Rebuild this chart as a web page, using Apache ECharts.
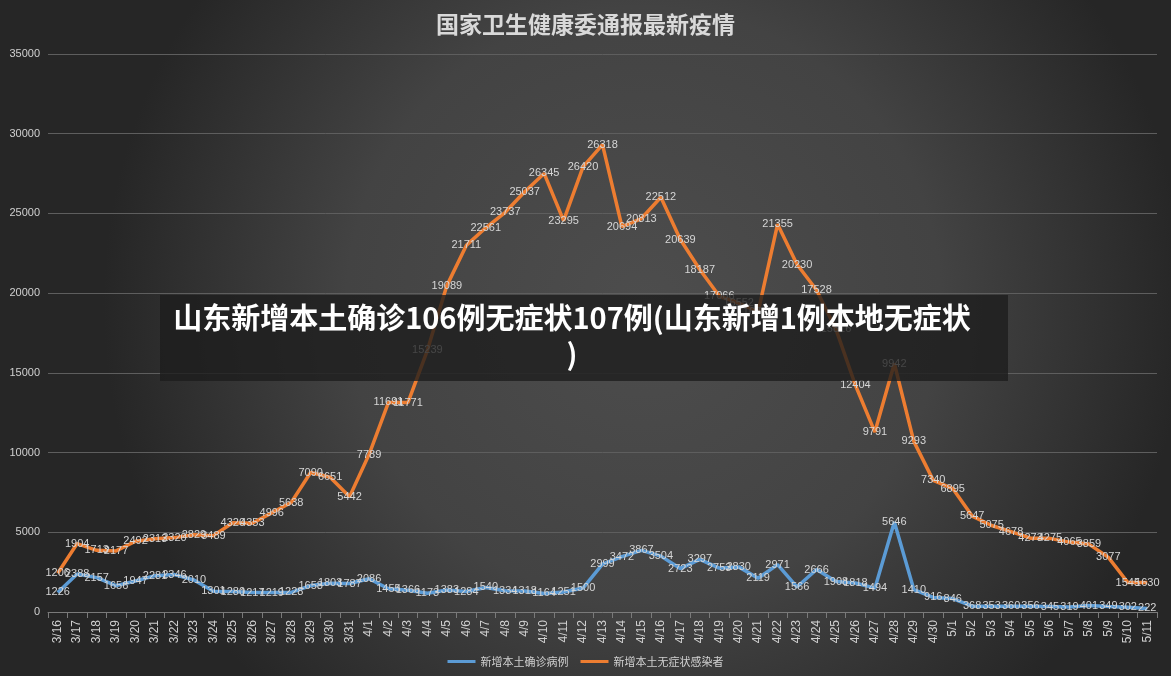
<!DOCTYPE html>
<html>
<head>
<meta charset="utf-8">
<script src="https://cdn.jsdelivr.net/npm/echarts@6/dist/echarts.min.js"></script>
<style>
html,body{margin:0;padding:0;background:#2b2b2b;}
#c{width:1171px;height:676px;}
</style>
</head>
<body>
<div id="c"></div>
<script>
const dates = ['3/16','3/17','3/18','3/19','3/20','3/21','3/22','3/23','3/24','3/25','3/26','3/27','3/28','3/29','3/30','3/31',
'4/1','4/2','4/3','4/4','4/5','4/6','4/7','4/8','4/9','4/10','4/11','4/12','4/13','4/14','4/15','4/16','4/17','4/18','4/19','4/20',
'4/21','4/22','4/23','4/24','4/25','4/26','4/27','4/28','4/29','4/30',
'5/1','5/2','5/3','5/4','5/5','5/6','5/7','5/8','5/9','5/10','5/11'];
const confirmed = [1226,2388,2157,1656,1947,2281,2346,2010,1301,1280,1217,1219,1228,1658,1803,1787,
2086,1455,1366,1173,1383,1284,1540,1334,1318,1164,1251,1500,2999,3472,3867,3504,2723,3297,2753,2830,
2119,2971,1566,2666,1908,1818,1494,5646,1410,916,
846,368,353,360,356,345,319,401,349,302,222];
const asymptomatic = [1206,1904,1713,2177,2492,2313,2320,2829,3489,4320,4353,4996,5638,7090,6651,5442,
7789,11691,11771,15239,19089,21711,22561,23737,25037,26345,23295,26420,26318,20694,20813,22512,20639,18187,17066,16552,
16700,21355,20230,17528,15816,12404,9791,9942,9293,7340,
6895,5647,5075,4678,4273,4275,4065,3859,3077,1545,1630];
const yTicks = [0,5000,10000,15000,20000,25000,30000,35000];
const seriesNames = ['新增本土确诊病例','新增本土无症状感染者'];
const titleText = '国家卫生健康委通报最新疫情';
const bannerText = '山东新增本土确诊106例无症状107例(山东新增1例本地无症状\n)';

const chart = echarts.init(document.getElementById('c'));
const lbl = {show:true, position:'inside', color:'#d6d6d6', fontSize:11, fontFamily:'Liberation Sans, sans-serif'};
chart.setOption({
  animation:false,
  backgroundColor:{type:'radial', x:0.55, y:0.45, r:0.8,
    colorStops:[{offset:0,color:'#4d4d4d'},{offset:0.55,color:'#434343'},{offset:1,color:'#262626'}]},
  title:{text:titleText, left:'center', top:8,
    textStyle:{color:'#d9d9d9', fontSize:23, fontWeight:'bold', fontFamily:'Noto Sans CJK SC'}},
  legend:{bottom:4, left:'center', itemWidth:28, itemHeight:3, itemGap:12,
    icon:'rect',
    textStyle:{color:'#d0d0d0', fontSize:11, fontFamily:'Noto Sans CJK SC'}},
  grid:{left:48, right:14, top:54, bottom:64},
  xAxis:{type:'category', data:dates, boundaryGap:true,
    axisLine:{lineStyle:{color:'#7a7a7a'}},
    axisTick:{show:true, length:6, lineStyle:{color:'#7a7a7a'}},
    axisLabel:{interval:0, rotate:90, color:'#d0d0d0', fontSize:12, fontFamily:'Liberation Sans, sans-serif', margin:8}},
  yAxis:{type:'value', min:0, max:35000, interval:5000,
    axisLine:{show:false}, axisTick:{show:false},
    axisLabel:{color:'#d0d0d0', fontSize:11, fontFamily:'Liberation Sans, sans-serif', margin:8,
      formatter:function(v){return String(v);}},
    splitLine:{lineStyle:{color:'#5e5e5e', width:1}}},
  series:[
    {name:seriesNames[0], type:'line', stack:'total', data:confirmed, showSymbol:true, symbol:'circle', symbolSize:0,
      lineStyle:{color:'#5b9bd5', width:3.5}, itemStyle:{color:'#5b9bd5'}, label:lbl, z:3,
      labelLayout:{hideOverlap:false}},
    {name:seriesNames[1], type:'line', stack:'total', data:asymptomatic, showSymbol:true, symbol:'circle', symbolSize:0,
      lineStyle:{color:'#ed7d31', width:3.5}, itemStyle:{color:'#ed7d31'}, label:lbl, z:2,
      labelLayout:{hideOverlap:false}}
  ],
  graphic:[
    {type:'rect', z:100, shape:{x:160, y:295, width:848, height:86},
      style:{fill:'rgba(28,28,28,0.78)'}},
    {type:'text', z:101, x:572, y:300,
      style:{text:bannerText, fill:'#ffffff', fontSize:29, fontWeight:'bold',
        fontFamily:'Noto Sans CJK SC', align:'center', verticalAlign:'top', lineHeight:36}}
  ]
});
</script>
</body>
</html>
